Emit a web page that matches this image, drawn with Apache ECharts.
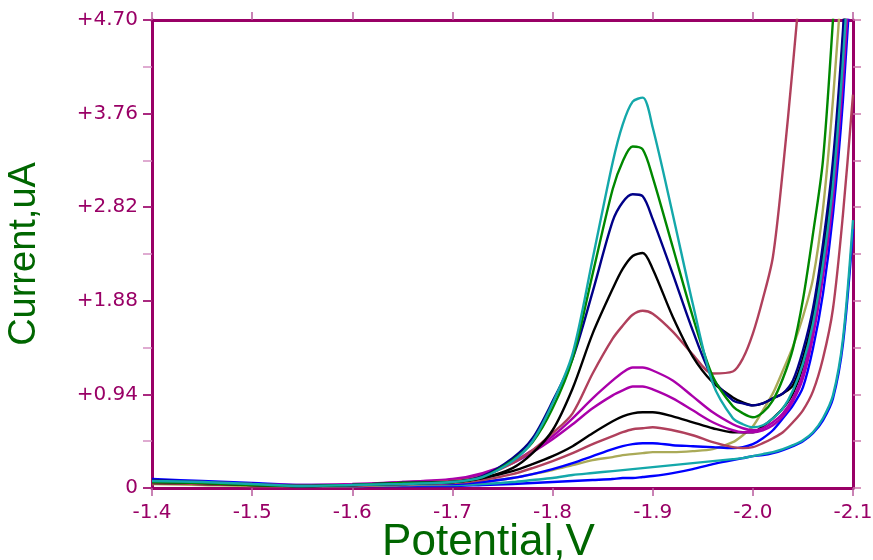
<!DOCTYPE html>
<html>
<head>
<meta charset="utf-8">
<script src="https://cdn.jsdelivr.net/npm/echarts@6/dist/echarts.min.js"></script>
<style>
  html, body { margin: 0; padding: 0; background: #ffffff; }
  #chart { width: 873px; height: 560px; }
</style>
</head>
<body>
<div id="chart"></div>
<script>
// Potential sweep (V) shared by every voltammogram
const potentials = [-1.40, -1.45, -1.50, -1.55, -1.60, -1.65, -1.70, -1.73, -1.76, -1.78,
  -1.80, -1.82, -1.84, -1.86, -1.87, -1.88, -1.89, -1.90, -1.92, -1.94,
  -1.96, -1.98, -1.99, -2.00, -2.01, -2.02, -2.03, -2.04, -2.05, -2.06, -2.07, -2.08, -2.09, -2.10];

// Current (uA) for each scan
const blueBlank = [0.08, 0.06, 0.04, 0.02, 0.02, 0.02, 0.02, 0.03, 0.04, 0.05, 0.06, 0.07, 0.08, 0.09, 0.10, 0.10, 0.11, 0.12, 0.15, 0.19, 0.24, 0.28, 0.30, 0.32, 0.33, 0.35, 0.38, 0.42, 0.47, 0.55, 0.68, 0.90, 1.45, 2.60];
const tealBlank = [0.06, 0.05, 0.04, 0.02, 0.02, 0.03, 0.03, 0.04, 0.06, 0.08, 0.10, 0.13, 0.15, 0.17, 0.18, 0.19, 0.20, 0.21, 0.23, 0.25, 0.27, 0.29, 0.30, 0.32, 0.34, 0.36, 0.39, 0.43, 0.48, 0.56, 0.70, 0.93, 1.50, 2.69];
const olive1 = [0.04, 0.03, 0.02, 0.02, 0.02, 0.03, 0.04, 0.06, 0.10, 0.14, 0.18, 0.23, 0.28, 0.31, 0.33, 0.34, 0.35, 0.36, 0.36, 0.37, 0.39, 0.46, 0.53, 0.62, 0.78, 0.95, 1.18, 1.42, 1.72, 2.10, 2.80, 3.90, 5.30, 7.00];
const blue1 = [0.09, 0.07, 0.05, 0.03, 0.03, 0.04, 0.04, 0.06, 0.10, 0.14, 0.19, 0.25, 0.32, 0.39, 0.42, 0.44, 0.45, 0.45, 0.43, 0.42, 0.41, 0.40, 0.41, 0.44, 0.50, 0.58, 0.70, 0.83, 1.01, 1.40, 1.95, 2.75, 3.90, 5.50];
const rose1 = [0.05, 0.04, 0.03, 0.02, 0.02, 0.04, 0.05, 0.08, 0.14, 0.20, 0.27, 0.35, 0.44, 0.52, 0.56, 0.59, 0.60, 0.61, 0.58, 0.53, 0.46, 0.41, 0.40, 0.41, 0.45, 0.50, 0.56, 0.66, 0.78, 0.97, 1.30, 1.80, 2.75, 3.95];
const black1 = [0.05, 0.04, 0.03, 0.02, 0.03, 0.04, 0.06, 0.10, 0.17, 0.24, 0.32, 0.42, 0.55, 0.67, 0.72, 0.75, 0.76, 0.76, 0.72, 0.66, 0.60, 0.56, 0.56, 0.56, 0.62, 0.70, 0.80, 0.95, 1.22, 1.65, 2.30, 3.10, 4.40, 6.00];
const magenta1 = [0.06, 0.05, 0.04, 0.02, 0.03, 0.06, 0.08, 0.14, 0.25, 0.36, 0.49, 0.64, 0.80, 0.93, 0.98, 1.02, 1.02, 0.99, 0.90, 0.78, 0.66, 0.58, 0.56, 0.56, 0.58, 0.63, 0.72, 0.87, 1.10, 1.52, 2.12, 2.90, 4.10, 5.60];
const magenta2 = [0.07, 0.06, 0.04, 0.03, 0.04, 0.06, 0.09, 0.15, 0.26, 0.38, 0.52, 0.70, 0.90, 1.08, 1.16, 1.21, 1.21, 1.18, 1.08, 0.92, 0.76, 0.64, 0.60, 0.58, 0.60, 0.66, 0.75, 0.90, 1.15, 1.60, 2.20, 3.00, 4.25, 5.80];
const rose2 = [0.05, 0.04, 0.03, 0.02, 0.03, 0.05, 0.07, 0.12, 0.25, 0.38, 0.55, 0.75, 1.15, 1.50, 1.63, 1.74, 1.78, 1.75, 1.57, 1.34, 1.15, 1.17, 1.30, 1.55, 1.90, 2.32, 3.20, 4.25, 5.40, 6.80, 8.20, 9.60, 11.0, 12.5];
const black2 = [0.06, 0.05, 0.03, 0.02, 0.03, 0.05, 0.06, 0.10, 0.20, 0.35, 0.58, 1.00, 1.55, 2.00, 2.20, 2.33, 2.36, 2.20, 1.72, 1.32, 1.06, 0.91, 0.86, 0.83, 0.85, 0.90, 0.95, 1.03, 1.30, 1.72, 2.35, 3.20, 4.50, 6.20];
const navy1 = [0.08, 0.06, 0.04, 0.02, 0.03, 0.05, 0.06, 0.12, 0.30, 0.50, 0.87, 1.30, 1.97, 2.68, 2.87, 2.95, 2.93, 2.70, 2.15, 1.58, 1.10, 0.88, 0.85, 0.83, 0.85, 0.90, 0.95, 1.08, 1.38, 1.80, 2.45, 3.29, 4.60, 6.30];
const green1 = [0.06, 0.05, 0.03, 0.02, 0.03, 0.05, 0.06, 0.11, 0.28, 0.46, 0.80, 1.30, 2.15, 3.00, 3.28, 3.43, 3.40, 3.12, 2.42, 1.72, 1.12, 0.82, 0.75, 0.71, 0.76, 0.88, 1.10, 1.40, 1.89, 2.55, 3.29, 4.70, 6.30, 8.00];
const teal1 = [0.07, 0.06, 0.04, 0.02, 0.03, 0.04, 0.06, 0.11, 0.27, 0.47, 0.85, 1.35, 2.30, 3.27, 3.65, 3.88, 3.92, 3.62, 2.75, 1.85, 1.05, 0.70, 0.64, 0.61, 0.63, 0.70, 0.80, 0.98, 1.25, 1.65, 2.25, 3.05, 4.30, 5.90];

// Scans in drawing order with their stroke colours
const scans = [
  { name: 'Blank A', values: blueBlank, color: '#0000FF' },
  { name: 'Blank B', values: tealBlank, color: '#14A8AA' },
  { name: 'Scan 1', values: olive1, color: '#AAAA58' },
  { name: 'Scan 2', values: blue1, color: '#0000FF' },
  { name: 'Scan 3', values: rose1, color: '#B0405C' },
  { name: 'Scan 4', values: black1, color: '#000000' },
  { name: 'Scan 5', values: magenta1, color: '#AA00AA' },
  { name: 'Scan 6', values: magenta2, color: '#AA00AA' },
  { name: 'Scan 7', values: rose2, color: '#B0405C' },
  { name: 'Scan 8', values: black2, color: '#000000' },
  { name: 'Scan 9', values: navy1, color: '#000088' },
  { name: 'Scan 10', values: green1, color: '#008800' },
  { name: 'Scan 11', values: teal1, color: '#14A8AA' }
];

// Axis ranges and tick steps
const xMin = -2.1, xMax = -1.4, xStep = 0.1;
const yMin = 0, yMax = 4.7, yMinorStep = 0.47, yMajorStep = 0.94;

const frame = '#990066';
const labelFont = 'DejaVu Sans';

const chart = echarts.init(document.getElementById('chart'), null, { renderer: 'canvas' });

const baseX = {
  type: 'value', min: xMin, max: xMax, interval: xStep, inverse: true,
  splitLine: { show: false },
  axisLine: { show: true, onZero: false, lineStyle: { color: frame, width: 3 } },
  axisTick: { show: true, inside: false, length: 8, lineStyle: { color: '#B85A9C', width: 1.5 } }
};
const baseY = {
  type: 'value', min: yMin, max: yMax,
  splitLine: { show: false },
  axisLine: { show: true, onZero: false, lineStyle: { color: frame, width: 3 } }
};

chart.setOption({
  backgroundColor: '#ffffff',
  animation: false,
  grid: { left: 152, right: 20, top: 20, bottom: 72, containLabel: false, outerBoundsMode: 'none' },
  xAxis: [
    Object.assign({}, baseX, {
      position: 'bottom',
      name: 'Potential,V', nameLocation: 'middle', nameGap: 33, nameMoveOverlap: false,
      nameTextStyle: { color: '#006600', fontSize: 44, fontFamily: 'Liberation Sans', padding: [0, 28, 0, 0] },
      axisLabel: {
        color: frame, fontSize: 20, fontFamily: labelFont, margin: 15,
        formatter: v => v.toFixed(1)
      }
    }),
    Object.assign({}, baseX, { position: 'top', axisLabel: { show: false } })
  ],
  yAxis: [
    Object.assign({}, baseY, {
      position: 'left', interval: yMinorStep,
      axisTick: { show: true, length: 9, lineStyle: { color: '#D590C2', width: 1.5 } },
      axisLabel: { show: false }
    }),
    Object.assign({}, baseY, {
      position: 'left', interval: yMajorStep,
      name: 'Current,uA', nameLocation: 'middle', nameGap: 108, nameMoveOverlap: false,
      nameTextStyle: { color: '#006600', fontSize: 38, fontFamily: 'Liberation Sans' },
      axisTick: { show: true, length: 9, lineStyle: { color: frame, width: 1.5 } },
      axisLabel: {
        color: frame, fontSize: 20, fontFamily: labelFont, margin: 14,
        formatter: v => (Math.abs(v) < 1e-9 ? '0' : '+' + v.toFixed(2))
      }
    }),
    Object.assign({}, baseY, {
      position: 'right', interval: yMinorStep,
      axisTick: { show: true, length: 8, lineStyle: { color: '#CC77AA', width: 1.5 } },
      axisLabel: { show: false }
    })
  ],
  series: scans.map(s => ({
    name: s.name,
    type: 'line',
    xAxisIndex: 0,
    yAxisIndex: 0,
    data: potentials.map((p, i) => [p, s.values[i]]),
    smooth: 0.3,
    showSymbol: false,
    clip: true,
    lineStyle: { color: s.color, width: 2.4 },
    itemStyle: { color: s.color },
    emphasis: { disabled: true }
  }))
});
</script>
</body>
</html>
